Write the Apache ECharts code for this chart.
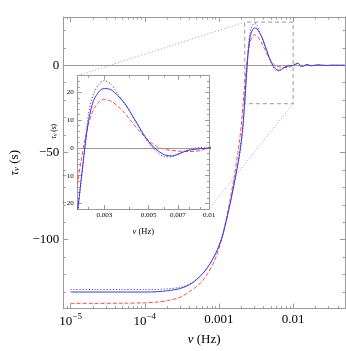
<!DOCTYPE html>
<html>
<head>
<meta charset="utf-8">
<script src="https://cdn.jsdelivr.net/npm/echarts@6/dist/echarts.min.js"></script>
<style>
html, body { margin: 0; padding: 0; background: #fff; }
#chart { width: 346px; height: 351px; }
</style>
</head>
<body>
<div id="chart"></div>
<script>
// frequency grid (Hz) and the three delay curves tau_nu (s)
const freq = [1e-5, 2e-5, 5e-5, 1e-4, 1.5e-4, 2e-4, 3e-4, 4e-4, 5e-4, 6e-4, 7e-4, 8e-4, 9e-4,
  1e-3, 1.1e-3, 1.2e-3, 1.4e-3, 1.6e-3, 1.8e-3, 1.9e-3, 2.0e-3, 2.1e-3, 2.2e-3, 2.3e-3, 2.4e-3,
  2.5e-3, 2.65e-3, 2.85e-3, 3.0e-3, 3.25e-3, 3.5e-3, 3.8e-3, 4.1e-3, 4.4e-3, 4.8e-3, 5.2e-3,
  5.6e-3, 6.0e-3, 6.5e-3, 7.0e-3, 7.5e-3, 8.0e-3, 9.0e-3, 0.01, 0.0108, 0.0115, 0.0122, 0.0128,
  0.0138, 0.0151, 0.0163, 0.0175, 0.0195, 0.0217, 0.025, 0.0287, 0.034, 0.04, 0.05];
const tauBlue = [-130, -130, -130, -130, -129.8, -129.3, -128, -125.8, -122.8, -119.5, -116, -112, -108,
  -103.5, -98.5, -92.5, -80, -68, -56.5, -50.5, -43.5, -35, -23.5, -11.5, 0,
  9.5, 17, 20.6, 21.4, 20.9, 18.8, 16, 12.2, 8.5, 4, 0.8,
  -1.2, -2.5, -2.9, -2.3, -1.4, -0.8, -0.3, 0, 0.6, 1.2, 0.5, -0.6,
  -0.4, 0.35, 0.1, -0.25, 0, 0.2, 0, -0.1, 0.05, 0, 0];
const tauBlack = [-128.6, -128.6, -128.6, -128.6, -128.5, -128.2, -127.3, -125.5, -122.7, -119.5, -116, -112, -108,
  -103.5, -98.5, -92.5, -80, -68, -56.5, -50.5, -43.5, -35.5, -24.5, -11.5, 0.5,
  12, 19.5, 23.2, 24.2, 22.8, 19.5, 15.8, 12, 8.3, 3.6, 0.2,
  -2, -3.2, -3.2, -2.2, -1.2, -0.5, 0.1, -0.2, 0.5, 1.2, 0.5, -0.6,
  -0.4, 0.35, 0.1, -0.25, 0, 0.2, 0, -0.1, 0.05, 0, 0];
const tauRed = [-136.5, -136.5, -136.4, -136.2, -135.7, -135, -133, -129.8, -126.8, -123.5, -119.5, -115.3, -110.5,
  -105, -99, -92, -78, -64, -50, -42.5, -34, -23.5, -13.5, -4.5, 3,
  8.5, 13.8, 16.8, 17.5, 16.8, 15, 12.5, 9.5, 6.8, 3.8, 1.6,
  0.2, -0.5, -0.9, -1.1, -1.25, -1.3, -1.0, 0.1, 0.7, 1.1, 0.4, -0.5,
  -0.5, 0.3, 0.1, -0.2, 0, 0.15, 0, -0.1, 0.05, 0, 0];

// axis ranges and tick labels
const mainX = [7.94e-6, 0.05];
const mainY = [-139.5, 27.7];
const mainXTicks = [1e-5, 1e-4, 0.001, 0.01];
const mainXLabels = ['{b|10}{s|−5}', '{b|10}{s|−4}', '0.001', '0.01'];
const mainYTicks = [-100, -50, 0];
const insetX = [0.00221, 0.01];
const insetY = [-22, 26];
const insetXTicks = [0.003, 0.005, 0.007, 0.01];
const insetXLabels = ['0.003', '0.005', '0.007', '0.01'];
const insetXMinor = [0.0025, 0.004, 0.006, 0.008, 0.009];
const insetYTicks = [-20, -10, 0, 10, 20];
// zoom box drawn on the main panel
const boxX = [0.00222, 0.01];
const boxY = [-22, 24.8];

// minor tick positions
const mainXMinor = [];
[-6, -5, -4, -3, -2].forEach(e => {
  for (let k = 2; k <= 9; k++) {
    const v = k * Math.pow(10, e);
    if (v > mainX[0] && v < mainX[1]) mainXMinor.push(+v.toPrecision(3));
  }
});
const mainYMinor = [];
for (let v = -130; v <= 20; v += 10) if (v % 50 !== 0) mainYMinor.push(v);
const insetYMinor = [];
for (let v = -20; v <= 24; v += 2) if (v % 10 !== 0) insetYMinor.push(v);

const frame = '#9a9a9a';
const serif = '"Liberation Serif", "DejaVu Serif", serif';
const minus = v => (v < 0 ? '−' + (-v) : String(v));

const chart = echarts.init(document.getElementById('chart'));

function axis(type, grid, pos, ext, ticks, len, extra) {
  return Object.assign({
    type: type, gridIndex: grid, position: pos, min: ext[0], max: ext[1],
    axisLine: { show: false, onZero: false },
    axisTick: { show: true, inside: true, length: len, customValues: ticks,
      lineStyle: { color: frame, width: 1 } },
    axisLabel: { show: false },
    splitLine: { show: false }
  }, extra || {});
}
const frameLine = { show: true, onZero: false, lineStyle: { color: frame, width: 1 } };

const xAxes = [
  axis('log', 0, 'bottom', mainX, mainXTicks, 5, {
    axisLine: frameLine,
    axisLabel: {
      customValues: mainXTicks, margin: 4, color: '#000', fontFamily: serif, fontSize: 13,
      formatter: v => mainXLabels[mainXTicks.findIndex(t => Math.abs(t - v) / t < 1e-6)],
      rich: {
        b: { fontFamily: serif, fontSize: 13, color: '#000' },
        s: { fontFamily: serif, fontSize: 9, color: '#000', padding: [0, 0, 9, 0] }
      }
    },
    name: '{i|ν} (Hz)', nameLocation: 'middle', nameGap: 24,
    nameTextStyle: { fontFamily: serif, fontSize: 13, color: '#000',
      rich: { i: { fontFamily: serif, fontStyle: 'italic', fontSize: 13, color: '#000' } } }
  }),
  axis('log', 0, 'bottom', mainX, mainXMinor, 2.5),
  axis('log', 0, 'top', mainX, mainXTicks, 5, { axisLine: frameLine }),
  axis('log', 0, 'top', mainX, mainXMinor, 2.5),
  axis('log', 1, 'bottom', insetX, insetXTicks, 4, {
    axisLine: frameLine,
    axisLabel: {
      customValues: insetXTicks, margin: 3, color: '#000', fontFamily: serif, fontSize: 7,
      formatter: v => insetXLabels[insetXTicks.findIndex(t => Math.abs(t - v) / t < 1e-6)]
    },
    name: '{i|ν} (Hz)', nameLocation: 'middle', nameGap: 18,
    nameTextStyle: { fontFamily: serif, fontSize: 8.5, color: '#000',
      rich: { i: { fontFamily: serif, fontStyle: 'italic', fontSize: 8.5, color: '#000' } } }
  }),
  axis('log', 1, 'bottom', insetX, insetXMinor, 2),
  axis('log', 1, 'top', insetX, insetXTicks, 4, { axisLine: frameLine }),
  axis('log', 1, 'top', insetX, insetXMinor, 2)
];

const yAxes = [
  axis('value', 0, 'left', mainY, mainYTicks, 5, {
    axisLine: frameLine,
    axisLabel: { customValues: mainYTicks, margin: 4, color: '#000', fontFamily: serif, fontSize: 13,
      formatter: minus },
    name: '{t|τ}{u|ν} (s)', nameLocation: 'middle', nameGap: 40, nameRotate: 90,
    nameTextStyle: { fontFamily: serif, fontSize: 13, color: '#000',
      rich: {
        t: { fontFamily: serif, fontStyle: 'italic', fontSize: 13, color: '#000' },
        u: { fontFamily: serif, fontStyle: 'italic', fontSize: 9, color: '#000', padding: [5, 0, 0, 0] }
      } }
  }),
  axis('value', 0, 'left', mainY, mainYMinor, 2.5),
  axis('value', 0, 'right', mainY, mainYTicks, 5, { axisLine: frameLine }),
  axis('value', 0, 'right', mainY, mainYMinor, 2.5),
  axis('value', 1, 'left', insetY, insetYTicks, 4, {
    axisLine: frameLine,
    axisLabel: { customValues: insetYTicks, margin: 4, color: '#000', fontFamily: serif, fontSize: 7,
      formatter: minus },
    name: '{t|τ}{u|ν} (s)', nameLocation: 'middle', nameGap: 6, nameRotate: 90,
    nameTextStyle: { fontFamily: serif, fontSize: 7.5, color: '#000', padding: [0, 0, 0, 22],
      rich: {
        t: { fontFamily: serif, fontStyle: 'italic', fontSize: 7.5, color: '#000' },
        u: { fontFamily: serif, fontStyle: 'italic', fontSize: 5.5, color: '#000', padding: [3, 0, 0, 0] }
      } }
  }),
  axis('value', 1, 'left', insetY, insetYMinor, 2),
  axis('value', 1, 'right', insetY, insetYTicks, 4, { axisLine: frameLine }),
  axis('value', 1, 'right', insetY, insetYMinor, 2)
];

const pairs = ys => freq.map((f, i) => [f, ys[i]]);
const zeroLine = {
  silent: true, symbol: 'none', label: { show: false },
  lineStyle: { color: frame, type: 'solid', width: 1 },
  data: [{ yAxis: 0 }]
};

function curves(xi, yi) {
  const base = { type: 'line', xAxisIndex: xi, yAxisIndex: yi, showSymbol: false, symbol: 'none',
    smooth: 0.3, silent: true, animation: false, clip: true };
  return [
    Object.assign({}, base, { name: 'black', data: pairs(tauBlack), z: 3,
      lineStyle: { color: '#333', width: 1, type: [1, 2] }, markLine: zeroLine }),
    Object.assign({}, base, { name: 'red', data: pairs(tauRed), z: 4,
      lineStyle: { color: '#ff4a4a', width: 1, type: [4, 2] } }),
    Object.assign({}, base, { name: 'blue', data: pairs(tauBlue), z: 5,
      lineStyle: { color: '#3535ff', width: 1 } })
  ];
}

const boxSeries = {
  type: 'line', xAxisIndex: 0, yAxisIndex: 0, showSymbol: false, symbol: 'none', silent: true,
  animation: false, z: 2,
  lineStyle: { color: '#ababab', width: 1.2, type: [4, 3] },
  data: [[boxX[0], boxY[0]], [boxX[0], boxY[1]], [boxX[1], boxY[1]], [boxX[1], boxY[0]], [boxX[0], boxY[0]]]
};

chart.setOption({
  animation: false,
  backgroundColor: '#fff',
  grid: [
    { left: 49, top: 17, width: 296, height: 296, containLabel: false },
    { left: 77.7, top: 75.7, width: 131.3, height: 133.3, containLabel: false,
      show: true, backgroundColor: '#fff', borderWidth: 0 }
  ],
  xAxis: xAxes,
  yAxis: yAxes,
  series: [boxSeries].concat(curves(0, 0), curves(4, 4))
});

// dotted connectors between the zoom box and the inset frame
const m = { xAxisIndex: 0, yAxisIndex: 0 };
const n = { xAxisIndex: 4, yAxisIndex: 4 };
const a1 = chart.convertToPixel(m, [boxX[0], boxY[1]]);
const b1 = chart.convertToPixel(n, [insetX[0], insetY[1]]);
const a2 = chart.convertToPixel(m, [boxX[1], boxY[0]]);
const b2 = chart.convertToPixel(n, [insetX[1], insetY[0]]);
const dot = { stroke: '#a0a0a0', lineWidth: 1, lineDash: [1, 2] };
chart.setOption({
  graphic: [
    { type: 'line', silent: true, z: 1, shape: { x1: a1[0], y1: a1[1], x2: b1[0], y2: b1[1] }, style: dot },
    { type: 'line', silent: true, z: 1, shape: { x1: a2[0], y1: a2[1], x2: b2[0], y2: b2[1] }, style: dot }
  ]
});
</script>
</body>
</html>
